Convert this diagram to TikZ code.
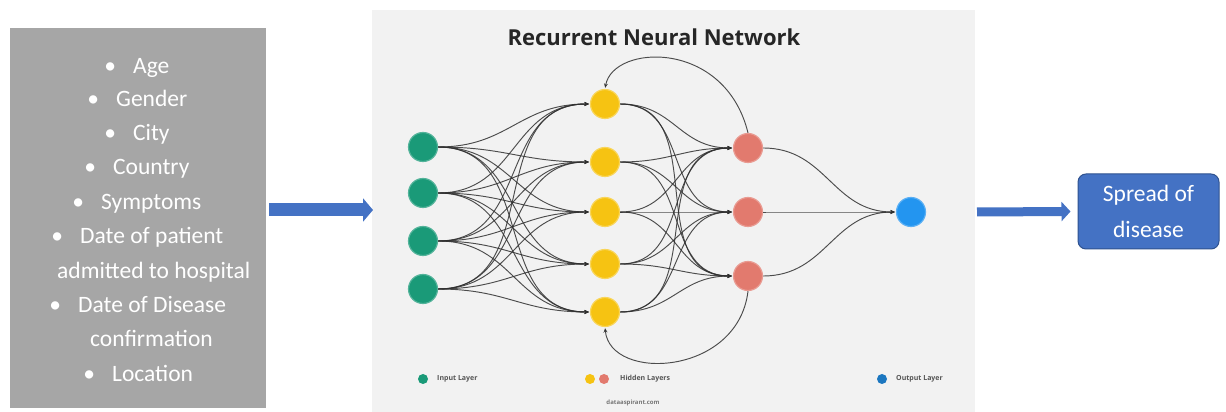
\documentclass[tikz,border=0pt]{standalone}
\usepackage{fontspec}
\setmainfont{Carlito}
\newfontfamily\titlefont{Open Sans}
\usetikzlibrary{arrows.meta}
\definecolor{boxgray}{HTML}{A6A6A6}
\definecolor{panelbg}{HTML}{F2F2F2}
\definecolor{officeblue}{HTML}{4472C4}
\definecolor{officeblueD}{HTML}{2F528F}
\definecolor{ingreen}{HTML}{1A9A78}
\definecolor{hidyellow}{HTML}{F6C312}
\definecolor{hidsalmon}{HTML}{E27A6E}
\definecolor{outblue}{HTML}{2395F0}
\definecolor{edgecol}{HTML}{303030}
\definecolor{legtext}{HTML}{555555}
\newcommand\featbul{\llap{\textbullet\hspace{17pt}}}
\begin{document}
\begin{tikzpicture}[x=1pt,y=1pt,
  feat/.style={font=\fontsize{23.5}{28}\selectfont, text=white, anchor=mid west, inner sep=0pt},
  neuron/.style={circle, minimum size=29pt, inner sep=0pt, line width=1.2pt},
  edge/.style={draw=edgecol, line width=0.95pt, draw opacity=0.85, -{Stealth[length=4.5pt,width=4pt]}, shorten >=1pt},
  legdot/.style={circle, minimum size=10pt, inner sep=0pt},
  legtxt/.style={font=\titlefont\bfseries\fontsize{7}{8}\selectfont, text=legtext, anchor=west, inner sep=0pt},
  bigarrow/.style={draw=officeblue}
]
\useasboundingbox (0,0) rectangle (1226,412);
\fill[white] (0,0) rectangle (1226,412);

% left feature box
\node[fill=boxgray, minimum width=256pt, minimum height=380pt, inner sep=0pt] (featbox) at (138,194) {};
\node[feat] (f1) at (133,341) {\featbul Age};
\node[feat] (f2) at (116,308) {\featbul Gender};
\node[feat] (f3) at (133,274) {\featbul City};
\node[feat] (f4) at (113,240) {\featbul Country};
\node[feat] (f5) at (101,205) {\featbul Symptoms};
\node[feat] (f6) at (80,171) {\featbul Date of patient};
\node[feat] (f7) at (57,136) {admitted to hospital};
\node[feat] (f8) at (78,102) {\featbul Date of Disease};
\node[feat] (f9) at (90,68) {confirmation};
\node[feat] (f10) at (112,33) {\featbul Location};

% central panel
\node[fill=panelbg, minimum width=603pt, minimum height=402pt, inner sep=0pt] (panel) at (673.5,201) {};
\node[font=\titlefont\bfseries\fontsize{22}{26}\selectfont, text=black!85] (title) at (654,375) {Recurrent Neural Network};

% neurons
\foreach \y [count=\i] in {265,219,171,123}
  \node[neuron, fill=ingreen, draw=ingreen!75!white] (g\i) at (423,\y) {};
\foreach \y [count=\i] in {308,250,200,148,100}
  \node[neuron, fill=hidyellow, draw=hidyellow!70!white] (h\i) at (605,\y) {};
\foreach \y [count=\i] in {264,200,136}
  \node[neuron, fill=hidsalmon, draw=hidsalmon!75!white] (s\i) at (748,\y) {};
\node[neuron, fill=outblue, draw=outblue!75!white] (o) at (911,200) {};

% connections
\foreach \i in {1,...,4}
  \foreach \j in {1,...,5}
    \draw[edge] (g\i.east) to[out=0,in=180,looseness=1.15] (h\j.west);
\foreach \i in {1,...,5}
  \foreach \j in {1,2,3}
    \draw[edge] (h\i.east) to[out=0,in=180,looseness=1.15] (s\j.west);
\foreach \j in {1,2,3}
  \draw[edge] (s\j.east) to[out=0,in=180,looseness=1.1] (o.west);

% recurrent loops
\draw[edge] (s1.north) .. controls +(-23,94) and +(8,45) .. (h1.north);
\draw[edge] (s3.south) .. controls +(-10,-85) and +(5,-55) .. (h5.south);

% legend
\node[legdot, fill=ingreen] (lg) at (423,33) {};
\node[legtxt] (lgt) at (437,33) {Input Layer};
\node[legdot, fill=hidyellow] (ly) at (590,33) {};
\node[legdot, fill=hidsalmon] (ls) at (604,33) {};
\node[legtxt] (lht) at (620,33) {Hidden Layers};
\node[legdot, fill=outblue!80!black] (lo) at (882,33) {};
\node[legtxt] (lot) at (896,33) {Output Layer};
\node[font=\titlefont\bfseries\fontsize{6}{7}\selectfont, text=legtext!80] (wm) at (633,9) {dataaspirant.com};

% output box
\node[draw=officeblueD, fill=officeblue, rounded corners=8pt, minimum width=141pt, minimum height=75pt,
      text=white, align=center, font=\fontsize{23.5}{36}\selectfont, line width=1pt, inner sep=0pt] (spread) at (1148.5,200.5) {Spread of\\disease};

% big arrows
\coordinate (a1s) at (269,202);
\coordinate (a1e) at (373,202);
\draw[bigarrow, line width=13pt, -{Triangle[length=10pt,width=23pt]}] (a1s) -- (a1e);
\coordinate (a2s) at (977,200);
\coordinate (a2e) at ([xshift=-7pt]spread.west);
\draw[bigarrow, line width=9pt, -{Triangle[length=9pt,width=19pt]}] (a2s) -- (a2e);
\end{tikzpicture}
\end{document}
